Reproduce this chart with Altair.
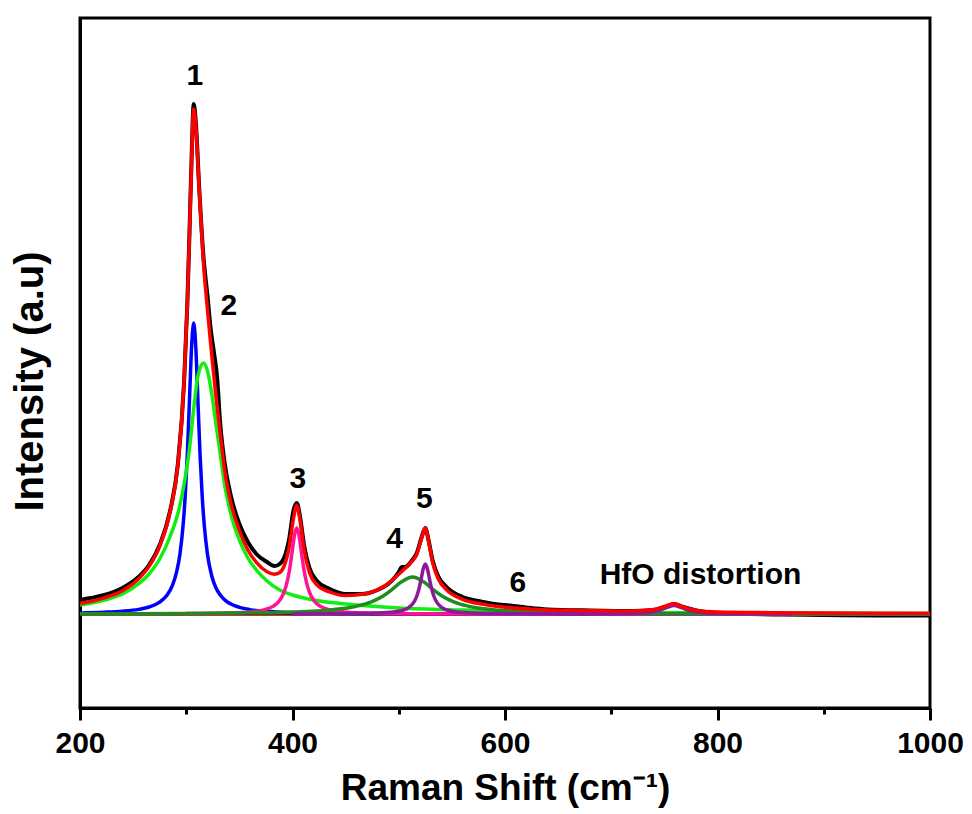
import altair as alt
import pandas as pd

# ---------------- data ----------------
black_x = [200, 210, 223, 240, 255, 265, 275, 285, 292, 298, 301, 303, 305, 307, 309, 312, 316, 320, 323, 326,
           329, 332, 336, 342, 350, 358, 366, 376, 383, 388, 392, 397, 401, 404, 407, 411, 416, 423, 435, 450,
           465, 480, 490, 495, 500, 503, 506, 509, 512, 517, 521, 525, 528, 532, 537, 545, 560, 575, 590, 605,
           620, 640, 680, 720, 740, 750, 759, 768, 780, 800, 830, 860, 900, 950, 1000]
black_y = [14, 16, 19, 26, 37, 49, 69, 104, 149, 233, 310, 380, 455, 510, 492, 430, 360, 318, 285, 262,
           237, 190, 152, 118, 90, 72, 60, 52, 48, 50, 56, 76, 104, 111, 98, 68, 46, 33, 25, 20,
           20, 24, 30, 35, 42, 47, 47, 49, 53, 61, 75, 86, 74, 53, 38, 27, 17, 13, 10, 8.5,
           6.5, 4.5, 3.5, 3, 4, 7, 10, 7, 3.5, 1, 0, -0.5, -1, -1.5, -1.5]

red_x = [200, 223, 240, 255, 265, 275, 285, 292, 298, 301, 303, 305, 307, 309, 312, 316, 320, 324, 328, 332,
         336, 342, 350, 358, 366, 376, 383, 388, 392, 397, 401, 404, 407, 411, 416, 423, 435, 450, 470, 485,
         495, 505, 512, 517, 521, 525, 528, 532, 537, 545, 560, 580, 600, 630, 680, 720, 740, 750, 759, 768,
         780, 800, 850, 900, 1000]
red_y = [10.5, 16.2, 23.3, 35, 47.6, 67.7, 103, 148, 233, 310, 379, 451, 505, 489, 428, 354, 304, 259, 217, 180,
         145, 111, 83.5, 64, 51.6, 42.3, 39.8, 41.4, 47.6, 67.6, 96, 108.6, 94.5, 64, 41.3, 29.2, 22, 18.5, 20.5, 26.9,
         34.9, 44.8, 52, 59.7, 74, 86, 73.3, 51, 35.5, 24.1, 14.7, 9.6, 6.7, 4.4, 3.2, 3, 4.5, 7.5, 10.2, 7,
         3.6, 2, 1.3, 1, 0.7]

blue_x = [200, 223, 240, 255, 265, 275, 282, 287, 291, 294, 297, 299, 301, 303, 305, 307, 309, 311, 313, 315,
          317, 320, 324, 328, 332, 337, 342, 350, 360, 375, 400, 450, 550, 700, 1000]
blue_y = [1.1, 1.8, 2.8, 4.6, 7.0, 11.9, 19.0, 28.6, 42.3, 59.6, 88.3, 117.9, 159.3, 212.9, 266.5, 291, 266.5, 212.9, 159.3, 117.9,
          88.3, 59.6, 38, 26, 19, 13.4, 10, 6.7, 4.4, 2.7, 1.45, 0.62, 0.21, 0.08, 0.03]

green_x = [200, 223, 240, 255, 265, 275, 285, 292, 298, 303, 307, 311, 316, 320, 324, 328, 332, 336, 342, 350,
           358, 366, 376, 388, 400, 420, 450, 500, 560, 650, 800, 1000]
green_y = [9, 14, 20, 30, 40, 55, 78, 100, 130, 165, 205, 238, 251, 243, 220, 190, 160, 130, 100, 74,
           56, 44, 33, 24, 19, 14, 10, 6, 4, 2.3, 1, 0.5]

pink_x = [300, 340, 364, 374, 379, 384, 388, 391, 394, 396, 398, 400, 402, 404, 406, 408, 410, 412, 414, 417,
          420, 424, 429, 434, 444, 468, 510, 600, 1000]
pink_y = [0.39, 1.02, 2.55, 4.4, 6.25, 9.4, 13.8, 19.3, 28.3, 37.3, 49.6, 64.8, 79.5, 86, 79.5, 64.8, 49.6, 37.3, 28.3, 19.3,
          13.8, 9.4, 6.25, 4.4, 2.55, 1.02, 0.37, 0.11, 0.01]

dkgreen_x = [200, 300, 363, 403, 433, 453, 468, 478, 486, 493, 503, 513, 523, 533, 540, 548, 558, 573, 593, 623,
             663, 713, 813, 1000]
dkgreen_y = [0.27, 0.59, 1.16, 2.1, 3.8, 6.2, 9.8, 13.8, 18.5, 23.9, 32.5, 37, 32.5, 23.9, 18.5, 13.8, 9.8, 6.2, 3.8, 2.1,
             1.16, 0.65, 0.3, 0.11]

purple_x = [400, 445, 480, 495, 503, 508, 512, 515, 517, 519, 521, 523, 525, 527, 529, 531, 533, 535, 538, 542,
            547, 555, 570, 605, 680]
purple_y = [0.11, 0.28, 0.88, 1.9, 3.5, 5.5, 8.8, 13.2, 18, 25, 34.6, 45, 50, 45, 34.6, 25, 18, 13.2, 8.8, 5.5,
            3.5, 1.9, 0.88, 0.28, 0.07]

hfo_x = [650, 700, 720, 735, 745, 752, 759, 766, 773, 783, 798, 818, 870]
hfo_y = [0.1, 0.34, 0.74, 1.7, 3.6, 6.3, 8.5, 6.3, 3.6, 1.7, 0.74, 0.34, 0.1]

base_x = [200, 1000]
base_y = [0, 0]

label_text = ["1", "2", "3", "4", "5", "6", "HfO distortion"]
label_x = [308, 340, 405, 496, 524, 612, 784]
label_y = [538, 308, 135, 75, 115, 31, 39]

tick_values = [200, 300, 400, 500, 600, 700, 800, 900, 1000]

# ---------------- chart ----------------
FONT = "Liberation Sans"
x_scale = alt.Scale(domain=[200, 1000], nice=False, zero=False)
y_scale = alt.Scale(domain=[-94, 596], nice=False, zero=False)

x_axis = alt.Axis(
    values=tick_values,
    format="d",
    labelExpr="datum.value % 200 === 0 ? datum.label : ''",
    title="Raman Shift (cm⁻¹)",
    grid=False,
    domainColor="black", domainWidth=3,
    tickColor="black", tickWidth=3,
    tickSize={"condition": {"test": "datum.value % 200 === 0", "value": 12}, "value": 6},
    labelFont=FONT, labelFontSize=30, labelFontWeight="bold", labelColor="black",
    labelPadding=8, labelFlush=False,
    titleFont=FONT, titleFontSize=37, titleFontWeight="bold", titleColor="black",
    titlePadding=12,
)
y_axis = alt.Axis(
    title="Intensity (a.u)",
    grid=False, ticks=False, labels=False,
    domainColor="black", domainWidth=3,
    titleFont=FONT, titleFontSize=40, titleFontWeight="bold", titleColor="black",
    titlePadding=30, titleY=363,
)

X = alt.X("shift:Q", scale=x_scale, axis=x_axis)
Y = alt.Y("intensity:Q", scale=y_scale, axis=y_axis)


def curve(xs, ys, color, width=3.5):
    df = pd.DataFrame({"shift": xs, "intensity": ys})
    return alt.Chart(df).mark_line(color=color, strokeWidth=width, interpolate="monotone", clip=True).encode(
        x=X, y=Y,
    )


layers = [
    curve(black_x, black_y, "#000000", 4),
    curve(base_x, base_y, "#8B0000"),
    curve(blue_x, blue_y, "#0000FF"),
    curve(green_x, green_y, "#11EE11"),
    curve(pink_x, pink_y, "#FF1493"),
    curve(dkgreen_x, dkgreen_y, "#1E8C1E"),
    curve(purple_x, purple_y, "#8B1A9B"),
    curve(hfo_x, hfo_y, "#8B1A9B"),
    curve(red_x, red_y, "#FF0000"),
]

labels_df = pd.DataFrame({"shift": label_x, "intensity": label_y, "text": label_text})
text_layer = alt.Chart(labels_df).mark_text(
    font=FONT, fontSize=30, fontWeight="bold", color="black", align="center", baseline="middle"
).encode(
    x=X, y=Y,
    text="text:N",
)

chart = alt.layer(*layers, text_layer).properties(
    width=850, height=690,
    autosize=alt.AutoSizeParams(type="none"),
    padding={"left": 80, "top": 18, "right": 42, "bottom": 106},
    background="white",
).configure_view(stroke="black", strokeWidth=3)

chart.save("out.html", embed_options={"renderer": "svg", "actions": False})
